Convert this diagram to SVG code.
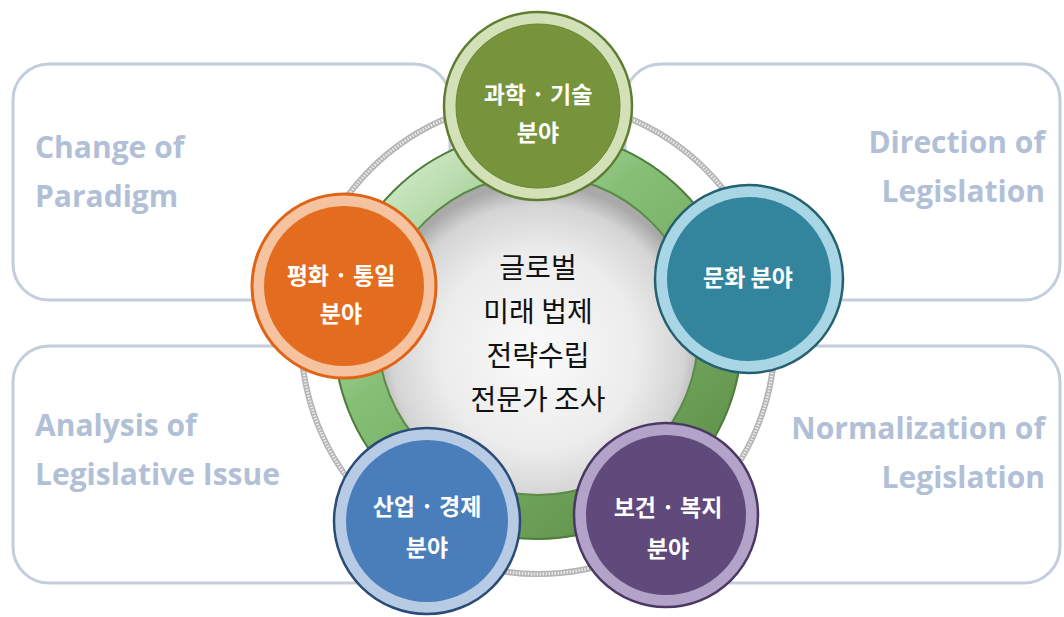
<svg xmlns="http://www.w3.org/2000/svg" width="1064" height="617" viewBox="0 0 1064 617">
<defs>
<style>
.box{fill:#ffffff;stroke:#c3cddb;stroke-width:3}
.lbl{font-family:"Open Sans","Liberation Sans",sans-serif;font-weight:700;font-size:30px;fill:#b1c0d6}
.ctr{font-family:"Noto Sans CJK KR",sans-serif;font-size:28px;fill:#111111;text-anchor:middle}
.ct{font-family:"Noto Sans CJK KR",sans-serif;font-weight:700;font-size:23px;fill:#ffffff;text-anchor:middle}
</style>
<radialGradient id="disk" cx="50%" cy="55%" r="52%">
<stop offset="0" stop-color="#fafafa"/>
<stop offset="0.6" stop-color="#ececec"/>
<stop offset="0.88" stop-color="#d4d4d4"/>
<stop offset="1" stop-color="#a9a9a9"/>
</radialGradient>
<linearGradient id="ring" gradientUnits="userSpaceOnUse" x1="380" y1="150" x2="700" y2="540">
<stop offset="0" stop-color="#dcefd3"/>
<stop offset="0.35" stop-color="#86c077"/>
<stop offset="0.7" stop-color="#6ea35a"/>
<stop offset="1" stop-color="#5a8843"/>
</linearGradient>
</defs>
<rect width="1064" height="617" fill="#ffffff"/>
<g id="boxes">
<rect id="box-tl" class="box" x="13" y="64" width="437" height="236" rx="36"/>
<rect id="box-tr" class="box" x="625" y="64" width="435" height="236" rx="36"/>
<rect id="box-bl" class="box" x="13" y="346" width="437" height="237" rx="36"/>
<rect id="box-br" class="box" x="625" y="346" width="435" height="237" rx="36"/>
</g>
<g id="labels">
<text class="lbl" x="35" y="158">Change of</text>
<text class="lbl" x="35" y="207">Paradigm</text>
<text class="lbl" x="1045" y="153" text-anchor="end">Direction of</text>
<text class="lbl" x="1045" y="202" text-anchor="end">Legislation</text>
<text class="lbl" x="35" y="436">Analysis of</text>
<text class="lbl" x="35" y="485">Legislative Issue</text>
<text class="lbl" x="1045" y="439" text-anchor="end">Normalization of</text>
<text class="lbl" x="1045" y="488" text-anchor="end">Legislation</text>
</g>
<g id="connectors">
<circle cx="538" cy="337" r="237" fill="none" stroke="#b4b4b4" stroke-width="6"/>
<circle cx="538" cy="337" r="237" fill="none" stroke="#ececec" stroke-width="3" stroke-dasharray="1.5 1.5"/>
</g>
<g id="center">
<circle cx="538" cy="335" r="182" fill="none" stroke="url(#ring)" stroke-width="45"/>
<circle cx="538" cy="335" r="204" fill="none" stroke="#4e7d3c" stroke-width="2"/>
<circle cx="538" cy="335" r="160" fill="url(#disk)" stroke="#5c8a47" stroke-width="2"/>
<text class="ctr" x="538" y="278">글로벌</text>
<text class="ctr" x="538" y="322">미래 법제</text>
<text class="ctr" x="538" y="366">전략수립</text>
<text class="ctr" x="538" y="410">전문가 조사</text>
</g>
<g id="node-science">
<circle cx="538" cy="106" r="94" fill="#d3e1b8" stroke="#5f7d30" stroke-width="2.5"/>
<circle cx="538" cy="106" r="82" fill="#77933c" stroke="#6a8535" stroke-width="1"/>
<text class="ct" x="538" y="103">과학 · 기술</text>
<text class="ct" x="538" y="141">분야</text>
</g>
<g id="node-peace">
<circle cx="344" cy="286" r="92" fill="#f6c3a0" stroke="#df6416" stroke-width="3"/>
<circle cx="344" cy="286" r="80" fill="#e46c1e"/>
<text class="ct" x="341" y="284">평화 · 통일</text>
<text class="ct" x="341" y="322">분야</text>
</g>
<g id="node-culture">
<circle cx="749" cy="279" r="94" fill="#a8d6e4" stroke="#24606f" stroke-width="2.5"/>
<circle cx="749" cy="279" r="82" fill="#32859c"/>
<text class="ct" x="748" y="286">문화 분야</text>
</g>
<g id="node-industry">
<circle cx="427" cy="521" r="93" fill="#b7cbe4" stroke="#2b4c78" stroke-width="2.5"/>
<circle cx="427" cy="521" r="81" fill="#4a7ebb"/>
<text class="ct" x="427" y="515">산업 · 경제</text>
<text class="ct" x="427" y="556">분야</text>
</g>
<g id="node-health">
<circle cx="666" cy="515" r="92" fill="#b3a3c8" stroke="#4a3862" stroke-width="2.5"/>
<circle cx="666" cy="515" r="80" fill="#604a7b"/>
<text class="ct" x="668" y="516">보건 · 복지</text>
<text class="ct" x="668" y="557">분야</text>
</g>
</svg>
